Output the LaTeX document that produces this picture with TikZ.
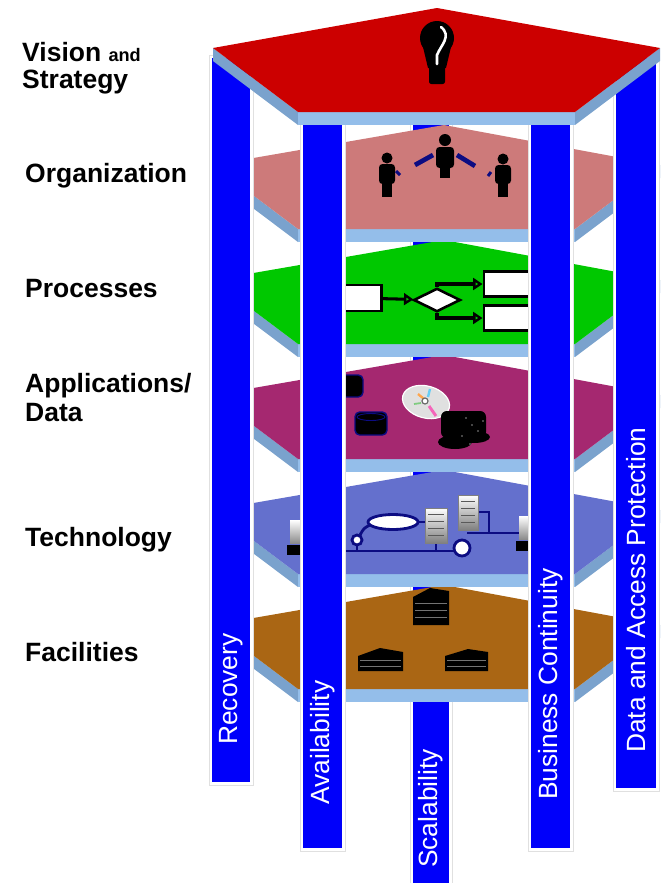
\documentclass[tikz,border=0pt]{standalone}
\usepackage{fontspec}
\setmainfont{Liberation Sans}
\usetikzlibrary{arrows.meta,shapes.geometric}

\definecolor{pillarblue}{RGB}{0,0,250}
\definecolor{visionred}{RGB}{204,0,0}
\definecolor{orgrose}{RGB}{205,122,122}
\definecolor{procgreen}{RGB}{0,200,0}
\definecolor{appsplum}{RGB}{165,40,112}
\definecolor{techslate}{RGB}{100,112,205}
\definecolor{facilbrown}{RGB}{170,102,20}
\definecolor{edgefront}{RGB}{148,190,234}
\definecolor{edgeside}{RGB}{122,162,205}
\definecolor{netnavy}{RGB}{12,12,130}

\begin{document}
\begin{tikzpicture}[
  x=0.03cm, y=-0.03cm,
  front/.style={fill=edgefront},
  side/.style={fill=edgeside},
  pillar/.style={fill=pillarblue},
  halo/.style={fill=white, draw=black!12, line width=0.6pt},
  pillartxt/.style={rotate=90, anchor=west, inner sep=0, text=white,
                    font=\fontsize{22.5}{24}\selectfont},
  layer/.style={anchor=base west, inner sep=0,
                font=\fontsize{22.6}{25}\selectfont\bfseries},
  netline/.style={draw=netnavy, line width=2.4pt},
  flowbox/.style={draw=black, fill=white, line width=2.2pt, inner sep=0},
  flowgate/.style={diamond, draw=black, fill=white, line width=2.2pt, inner sep=0},
  flowarrow/.style={draw=black, line width=2.6pt,
                    -{Triangle[open, length=8pt, width=10pt, fill=procgreen]}}
]
\useasboundingbox (0,0) rectangle (666,883);

%% ── Layer names (left column) ─────────────────────────────────────────────────

\node[layer] (vision)       at (22,61)  {Vision {\fontsize{15.5}{18}\selectfont and}};
\node[layer] (strategy)     at (22,88)  {Strategy};
\node[layer] (organization) at (25,182) {Organization};
\node[layer] (processes)    at (25,297) {Processes};
\node[layer] (applications) at (25,392) {Applications/};
\node[layer] (data)         at (25,421) {Data};
\node[layer] (technology)   at (25,546) {Technology};
\node[layer] (facilities)   at (25,661) {Facilities};

%% ── Back pillar (behind every floor) ──────────────────────────────────────────

\filldraw[halo] (410,97) rectangle (452,890);
\fill[pillar]   (413,100) rectangle (449,890);

%% ── Floors ────────────────────────────────────────────────────────────────────
%% each floor: pentagon top face, two slanted side edges and a front edge

\foreach \fy/\fc in {585/facilbrown, 470/techslate, 355/appsplum, 240/procgreen, 125/orgrose} {
  \fill[side]  (213,\fy+40) -- (298,\fy+104) -- (298,\fy+117) -- (213,\fy+53) -- cycle;
  \fill[side]  (660,\fy+40) -- (575,\fy+104) -- (575,\fy+117) -- (660,\fy+53) -- cycle;
  \fill[front] (298,\fy+104) rectangle (575,\fy+117);
  \fill[\fc]   (444,\fy) -- (660,\fy+40) -- (575,\fy+104) -- (298,\fy+104) -- (213,\fy+40) -- cycle;
}

% ── Organization: three people ───────────────────────────────────────────────
\fill (387,158) circle (5.5);
\fill[rounded corners=3] (379,164) rectangle (395,184);
\fill (382,182) rectangle (392,197);
\fill (445,140) circle (6);
\fill[rounded corners=3] (436,147) rectangle (454,168);
\fill (440,166) rectangle (450,178);
\fill (503,159) circle (5.5);
\fill[rounded corners=3] (495,165) rectangle (511,184);
\fill (498,182) rectangle (508,197);
\draw[netnavy, line width=4pt] (415,165) -- (433,155);
\draw[netnavy, line width=4pt] (457,155) -- (475,166);
\draw[netnavy, line width=2.5pt] (396,171) -- (400,175);
\draw[netnavy, line width=2.5pt] (491,172) -- (488,176);

% ── Processes: small flow chart ──────────────────────────────────────────────
\node[flowbox, minimum width=42pt, minimum height=22pt] (pstart) at (357,298) {};
\node[flowgate, minimum width=40pt, minimum height=20pt] (pgate) at (437,300) {};
\node[flowbox, minimum width=48pt, minimum height=21pt] (pupper) at (512,284) {};
\node[flowbox, minimum width=48pt, minimum height=21pt] (plower) at (512,318) {};
\draw[flowarrow] (pstart) -- (pgate);
\draw[flowarrow] (pgate.north) |- (pupper);
\draw[flowarrow] (pgate.south) |- (plower);

% ── Applications / Data: drives, disc, tapes ─────────────────────────────────
\filldraw[fill=black, draw=netnavy, line width=1.2pt, rounded corners=4] (335,375) rectangle (363,397);
\filldraw[fill=black, draw=netnavy, line width=1.2pt, rounded corners=4] (355,412) rectangle (387,435);
\draw[netnavy, line width=0.8pt] (371,417) ellipse (14 and 3.5);
\filldraw[fill=black!12, draw=white, line width=1pt, rotate around={-15:(426,402)}] (426,402) ellipse (24 and 16);
\draw[orange!70, line width=2pt] (418,394) -- (424,399);
\draw[magenta!60, line width=2.5pt] (429,406) -- (436,416);
\draw[cyan!60, line width=2pt] (430,389) -- (428,397);
\draw[green!60!black!50, line width=1.5pt] (414,404) -- (421,403);
\filldraw[fill=white, draw=black!60, line width=1pt] (425,401) circle (3);
\fill[rounded corners=5] (441,411) rectangle (486,438);
\fill (455,442) ellipse (17 and 7);
\fill (474,437) ellipse (16 and 6);
\foreach \dx/\dy in {466/418, 472/425, 478/431, 462/436, 470/444, 483/421} {
  \fill[black!45] (\dx,\dy) circle (0.9);
}

% ── Technology: network with servers and clients ─────────────────────────────
\draw[netline] (340,551) -- (456,551);
\draw[netline] (357,545) -- (357,551);
\draw[netline] (360,535) .. controls (364,528) .. (370,525);
\draw[netline] (417,522) -- (426,522);
\draw[netline] (436,543) -- (436,551);
\draw[netline] (467,533) -- (520,533);
\draw[netline] (478,512) -| (489,533);
\filldraw[netline, fill=white] (393,522) ellipse (25 and 7.5);
\filldraw[netline, fill=white] (357,540) circle (5);
\filldraw[netline, fill=white] (462,548) circle (8);
\shade[top color=white, bottom color=black!50] (425,508) rectangle (447,543);
\shade[top color=white, bottom color=black!50] (458,495) rectangle (478,530);
\foreach \sy in {514,521,528,535} {
  \draw[black!65, line width=0.8pt] (428,\sy) -- (444,\sy);
}
\foreach \sy in {501,508,515,522} {
  \draw[black!65, line width=0.8pt] (461,\sy) -- (475,\sy);
}
\draw[black!50, line width=0.5pt] (425,508) rectangle (447,543);
\draw[black!50, line width=0.5pt] (458,495) rectangle (478,530);
\shade[top color=white, bottom color=black!45] (519,516) rectangle (531,539);
\fill (516,541) rectangle (531,551);
\shade[top color=white, bottom color=black!45] (290,520) rectangle (301,543);
\fill (287,545) rectangle (301,555);

% ── Facilities: buildings ────────────────────────────────────────────────────
\fill (413,625) -- (413,597) -- (430,588) -- (449,591) -- (449,625) -- cycle;
\fill (358,671) -- (358,656) -- (380,648) -- (403,652) -- (403,671) -- cycle;
\fill (445,671) -- (445,656) -- (468,649) -- (488,652) -- (488,671) -- cycle;
\foreach \wy in {603,610,617} {
  \draw[black!55, line width=0.3pt] (415,\wy) -- (447,\wy);
}
\foreach \wy in {660,666} {
  \draw[black!55, line width=0.3pt] (360,\wy) -- (401,\wy);
  \draw[black!55, line width=0.3pt] (447,\wy) -- (486,\wy);
}

%% ── Side and front pillars ────────────────────────────────────────────────────

\foreach \xl/\xr/\yt/\yb in {212/250/58/782, 616/656/58/788, 303/342/122/848, 531/570/122/848} {
  \filldraw[halo] (\xl-3,\yt-3) rectangle (\xr+3,\yb+3);
  \fill[pillar]   (\xl,\yt) rectangle (\xr,\yb);
}

\node[pillartxt] (recovery)     at (231,745)   {Recovery};
\node[pillartxt] (availability) at (322.5,805) {Availability};
\node[pillartxt] (scalability)  at (431,868)   {Scalability};
\node[pillartxt] (continuity)   at (550.5,800) {Business Continuity};
\node[pillartxt] (protection)   at (636,753)   {Data and Access Protection};

%% ── Roof: vision and strategy ─────────────────────────────────────────────────

\fill[side]  (213,48) -- (298,112) -- (298,125) -- (213,61) -- cycle;
\fill[side]  (660,48) -- (575,112) -- (575,125) -- (660,61) -- cycle;
\fill[front] (298,112) rectangle (575,125);
\fill[visionred] (437,8) -- (660,48) -- (575,112) -- (298,112) -- (213,48) -- cycle;

% light bulb
\fill (437,38) circle (17);
\fill (423,47) -- (451,47) -- (446,68) -- (428,68) -- cycle;
\fill[rounded corners=2] (429,66) rectangle (445,84);
\draw[white, line width=2.2pt, line cap=round] (441,27) .. controls (452,36) and (441,45) .. (437,55) -- (437,64);

\end{tikzpicture}
\end{document}
